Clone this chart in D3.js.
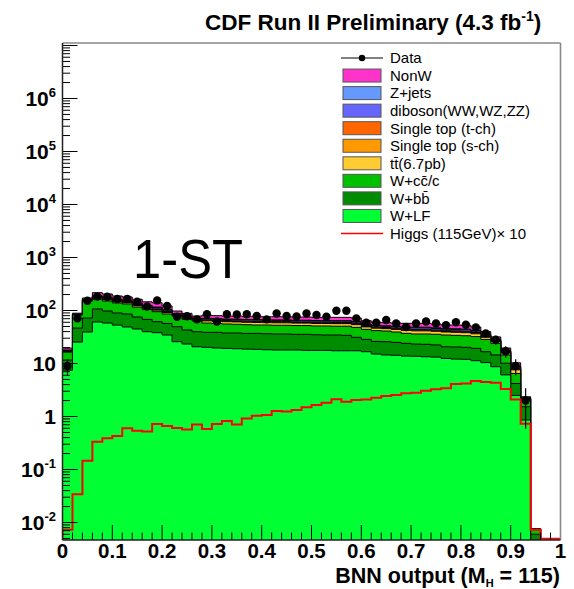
<!DOCTYPE html>
<html><head><meta charset="utf-8">
<script src="https://cdn.jsdelivr.net/npm/d3@7"></script>
<style>
body{margin:0;background:#fff}
svg{display:block}
text{font-family:"Liberation Sans",Arial,Helvetica,sans-serif}
</style>
</head><body>
<svg id="c" width="574" height="589"></svg>
<script>
// ---- binning ----
const nBins = 50, xLo = 0, xHi = 1;

// ---- stacked backgrounds (bottom to top), per bin ----
const wLF = [7.5,25.4,39.3,60.7,58,53,48.9,44.8,39.8,38.1,34.5,25.8,23.3,20.7,20.2,19.6,19.3,19,18.7,18.5,18.2,18,18,18,17.7,17.7,17.7,17.4,17.4,17.4,16.7,15.1,14.5,14.3,13.8,13.7,13.4,13.2,12.5,12.1,12,11.3,10.4,8.7,6.1,2.5,0.86,0.0035,0,0];
const wBB = [4.1,21.2,32.9,46.3,40,36.7,37,30.6,28.2,23.4,22.5,23.7,19.6,19.1,18.5,19.1,18.3,18.6,18.3,18.5,18.3,18,18,17.5,17.8,17.2,16.8,17.1,16.6,13.8,11.8,11,11.3,10.7,10.2,9.6,9.6,9.2,8.2,8.4,8.2,8,6.3,5.8,4,1.7,0.67,0.0025,0,0];
const wCC = [4.8,35.4,78.8,56,53,49.3,47.1,40.6,37,33.5,29,29.2,25.1,23.6,19.3,18.3,18.1,17.4,17,16.3,16.8,16.7,16.7,16.5,16.5,16.2,16.6,16,16.5,16.9,15.6,15.6,15.2,14.3,13.1,12.8,13.1,13.2,13.8,13.5,13.2,12.9,11.8,9.6,4.4,2.3,0.52,0.0015,0,0];
const ttbar = [0.5,1.0,3,8,8,7,7,7,6,6.5,5.5,3,3,2.5,5.8,5.8,5.8,5.9,5.9,6.1,5.8,5.9,5.9,5.8,5.8,5.8,5.8,6,6,6,5,4.6,4.5,4.7,5.1,5.2,5.2,4.9,4.8,4.8,4.8,4.2,2.8,1.8,1.3,1.1,0.08,0,0,0];
const stS = [0.15,0.35,1,2.7,2.7,2.4,2.3,2.3,2,2.2,1.8,1,1,0.8,1.1,1.1,1.1,1.2,1.2,1.2,1.1,1.2,1.2,1.2,1.2,1.2,1.2,1.2,1.2,1.2,1,0.9,0.9,0.9,1,1.1,1.1,1,0.9,1,1,0.8,0.6,0.4,0.3,0.2,0.02,0,0,0];
const stT = [0.25,0.55,1.7,4.3,4.3,3.9,3.8,3.8,3.3,3.6,2.9,1.5,1.6,1.2,1.8,1.8,1.8,1.9,1.9,2,1.8,1.9,1.9,1.9,1.9,1.9,1.9,1.9,1.9,1.9,1.6,1.5,1.4,1.5,1.6,1.7,1.7,1.6,1.5,1.5,1.5,1.3,0.9,0.6,0.4,0.3,0.03,0,0,0];
const diboson = [0.4,1,3,7.5,7.5,6.9,6.6,6.6,5.7,6.3,5,2.7,2.9,2.1,3.2,3.2,3.2,3.3,3.3,3.4,3.2,3.3,3.3,3.3,3.3,3.2,3.2,3.3,3.3,3.3,2.8,2.5,2.5,2.6,2.8,3,3,2.8,2.6,2.7,2.7,2.3,1.6,1.1,0.7,0.5,0.04,0,0,0];
const zjets = [0.2,0.4,1.3,3.2,3.2,2.9,2.8,2.8,2.5,2.7,2.2,1.1,1.2,0.9,1.4,1.4,1.4,1.4,1.4,1.5,1.4,1.4,1.4,1.4,1.4,1.4,1.4,1.4,1.4,1.4,1.2,1.1,1.1,1.1,1.2,1.3,1.3,1.2,1.1,1.2,1.2,1,0.7,0.5,0.3,0.2,0.02,0,0,0];
const nonW = [1.6,3.7,11,28.3,28.3,25.9,24.5,24.5,21.5,23.7,18.6,9.7,10.8,7.8,9.7,9.7,9.7,10,10,10.2,9.7,9.9,9.9,9.7,9.7,9.7,9.7,10,10,10,8.4,7.6,7.6,7.9,8.5,8.9,8.9,8.4,7.9,8.1,8.1,7,4.8,3.2,2.1,1.5,0.12,0,0,0];

// ---- observed data (events per bin) ----
const dataCounts = [9,71,153,183,182,165,166,146,119,155,122,76,78,68,85,62,85,84,85,79,68,88,79,77,88,82,76,99,99,71,59,59,66,57,49,57,62,57,53,60,54,48,37,28,17,9,2,0,0,0];

// ---- Higgs (115 GeV) x 10 ----
const higgs = [0.0073,0.034,0.146,0.335,0.39,0.43,0.60,0.54,0.52,0.72,0.66,0.61,0.57,0.71,0.58,0.72,0.82,0.71,0.92,1.03,1.07,1.27,1.25,1.33,1.49,1.65,1.82,2.11,1.9,2.05,2.1,2.26,2.44,2.54,2.74,2.8,3.07,3.26,3.4,4.1,4.2,4.7,4.5,4.35,3.3,2.1,0.73,0.0073,0,0];

// ---- tick labels ----
const xTickLabels = ["0","0.1","0.2","0.3","0.4","0.5","0.6","0.7","0.8","0.9","1"];
const yDecades = [-2,-1,0,1,2,3,4,5,6];

// ---- legend ----
const layerNames = ["W+LF","W+b\u0062\u0304","W+c\u0063\u0304/c","t\u0074\u0304(6.7pb)","Single top (s-ch)","Single top (t-ch)","diboson(WW,WZ,ZZ)","Z+jets","NonW"];
const layerColors = ["#00ff33","#008c00","#00c000","#ffcc33","#ff9900","#ff6600","#6666ff","#6699ff","#ff33cc"];
const layers = [wLF,wBB,wCC,ttbar,stS,stT,diboson,zjets,nonW];

const svg = d3.select("#c");
const L = 62.5, R = 560.5, T = 43, B = 540;
const yMin = 0.00468, yMax = 1.114e7;
const x = d3.scaleLinear().domain([xLo, xHi]).range([L, R]);
const y = d3.scaleLog().domain([yMin, yMax]).range([B, T]);
const edges = d3.range(nBins + 1).map(i => xLo + (xHi - xLo) * i / nBins);

svg.append("defs").append("clipPath").attr("id","plot")
  .append("rect").attr("x",L).attr("y",T).attr("width",R-L).attr("height",B-T);
const g = svg.append("g").attr("clip-path","url(#plot)");

function stepPath(vals, floorVal){
  let p = `M${x(edges[0])},${B+3}`;
  vals.forEach((v,i)=>{
    const yy = v > 0 ? y(Math.max(v, yMin)) : (floorVal ? y(floorVal) : B+3);
    p += `L${x(edges[i])},${yy}L${x(edges[i+1])},${yy}`;
  });
  p += `L${x(edges[nBins])},${B+3}`;
  return p;
}

// cumulative stack
const cum = [];
layers.forEach((arr,k)=>{
  cum.push(arr.map((v,i)=> v + (k>0 ? cum[k-1][i] : 0)));
});
for(let k = layers.length-1; k >= 0; k--){
  g.append("path").attr("d", stepPath(cum[k]) + "Z")
    .attr("fill", layerColors[k]).attr("stroke","#000").attr("stroke-width",1);
}

// Higgs line
g.append("path").attr("d", stepPath(higgs, yMin*1.06))
  .attr("fill","none").attr("stroke","#ff0000").attr("stroke-width",2);

// data
const dg = svg.append("g");
dataCounts.forEach((n,i)=>{
  if(n <= 0) return;
  const cx = x((edges[i]+edges[i+1])/2);
  const e = Math.sqrt(n);
  dg.append("line").attr("x1",cx).attr("x2",cx)
    .attr("y1",y(Math.max(n-e,yMin))).attr("y2",y(n+e))
    .attr("stroke","#000").attr("stroke-width",1.2);
  dg.append("circle").attr("cx",cx).attr("cy",y(n)).attr("r",4.2).attr("fill","#000");
});

// axes ticks
const ax = svg.append("g").attr("stroke","#000").attr("stroke-width",1);
d3.range(nBins+1).forEach(i=>{
  const major = i % 5 === 0;
  const xx = x(edges[i]);
  ax.append("line").attr("x1",xx).attr("x2",xx).attr("y1",B).attr("y2",B-(major?15:7.5));
});
for(let k=-3;k<=7;k++){
  for(let m=1;m<=9;m++){
    const v = m*Math.pow(10,k);
    if(v < yMin || v > yMax) continue;
    const yy = y(v);
    ax.append("line").attr("x1",L).attr("x2",L+(m===1?15:7.5)).attr("y1",yy).attr("y2",yy);
  }
}
// frame
svg.append("line").attr("x1",L).attr("x2",R).attr("y1",T).attr("y2",T).attr("stroke","#888").attr("stroke-width",1.6);
svg.append("line").attr("x1",R).attr("x2",R).attr("y1",T).attr("y2",B).attr("stroke","#888").attr("stroke-width",1.6);
svg.append("line").attr("x1",L).attr("x2",L).attr("y1",T).attr("y2",B).attr("stroke","#222").attr("stroke-width",1.5);
svg.append("line").attr("x1",L).attr("x2",R).attr("y1",B).attr("y2",B).attr("stroke","#222").attr("stroke-width",1.5);

// x tick labels
xTickLabels.forEach((t,i)=>{
  svg.append("text").attr("x",x(i/10)).attr("y",558).attr("text-anchor","middle")
    .attr("font-size",20.5).attr("font-weight","bold").text(t);
});
// y tick labels
yDecades.forEach(k=>{
  const yy = y(Math.pow(10,k)) + 7.5;
  const t = svg.append("text").attr("x",56).attr("y",yy).attr("text-anchor","end")
    .attr("font-size",21).attr("font-weight","bold");
  if(k===0) t.text("1");
  else if(k===1) t.text("10");
  else {
    t.append("tspan").text("10");
    t.append("tspan").attr("font-size",13).attr("dy",-9).text(String(k));
  }
});

// axis title
const xt = svg.append("text").attr("x",560).attr("y",583).attr("text-anchor","end")
  .attr("font-size",21.5).attr("font-weight","bold");
xt.append("tspan").text("BNN output (M");
xt.append("tspan").attr("font-size",11).attr("dy",3.5).text("H");
xt.append("tspan").attr("dy",-3.5).text(" = 115)");

// title
const tt = svg.append("text").attr("x",205).attr("y",30).attr("font-size",22.5).attr("font-weight","bold");
tt.append("tspan").text("CDF Run II Preliminary (4.3 fb");
tt.append("tspan").attr("font-size",14).attr("dy",-9).text("-1");
tt.append("tspan").attr("dy",9).text(")");

// big label
svg.append("text").attr("x",133).attr("y",278).attr("font-size",56)
  .attr("textLength",110).attr("lengthAdjust","spacingAndGlyphs").text("1-ST");

// legend
const lg = svg.append("g");
const lx0 = 343, lx1 = 381, ltx = 390, ly0 = 58, ldy = 17.55;
const entries = [{type:"data",name:"Data"}];
for(let k=layers.length-1;k>=0;k--) entries.push({type:"fill",name:layerNames[k],color:layerColors[k]});
entries.push({type:"line",name:"Higgs (115GeV)\u00d7 10"});
entries.forEach((e,i)=>{
  const yy = ly0 + i*ldy;
  if(e.type==="data"){
    lg.append("line").attr("x1",lx0-2).attr("x2",lx1+2).attr("y1",yy).attr("y2",yy).attr("stroke","#000").attr("stroke-width",1);
    lg.append("circle").attr("cx",(lx0+lx1)/2).attr("cy",yy).attr("r",3.2).attr("fill","#000");
  } else if(e.type==="fill"){
    lg.append("rect").attr("x",lx0).attr("y",yy-6.5).attr("width",lx1-lx0).attr("height",13)
      .attr("fill",e.color).attr("stroke","#555").attr("stroke-width",1);
  } else {
    lg.append("line").attr("x1",lx0-2).attr("x2",lx1+2).attr("y1",yy).attr("y2",yy).attr("stroke","#ff0000").attr("stroke-width",1.5);
  }
  lg.append("text").attr("x",ltx).attr("y",yy+5.3).attr("font-size",15).text(e.name);
});
</script>
</body></html>
